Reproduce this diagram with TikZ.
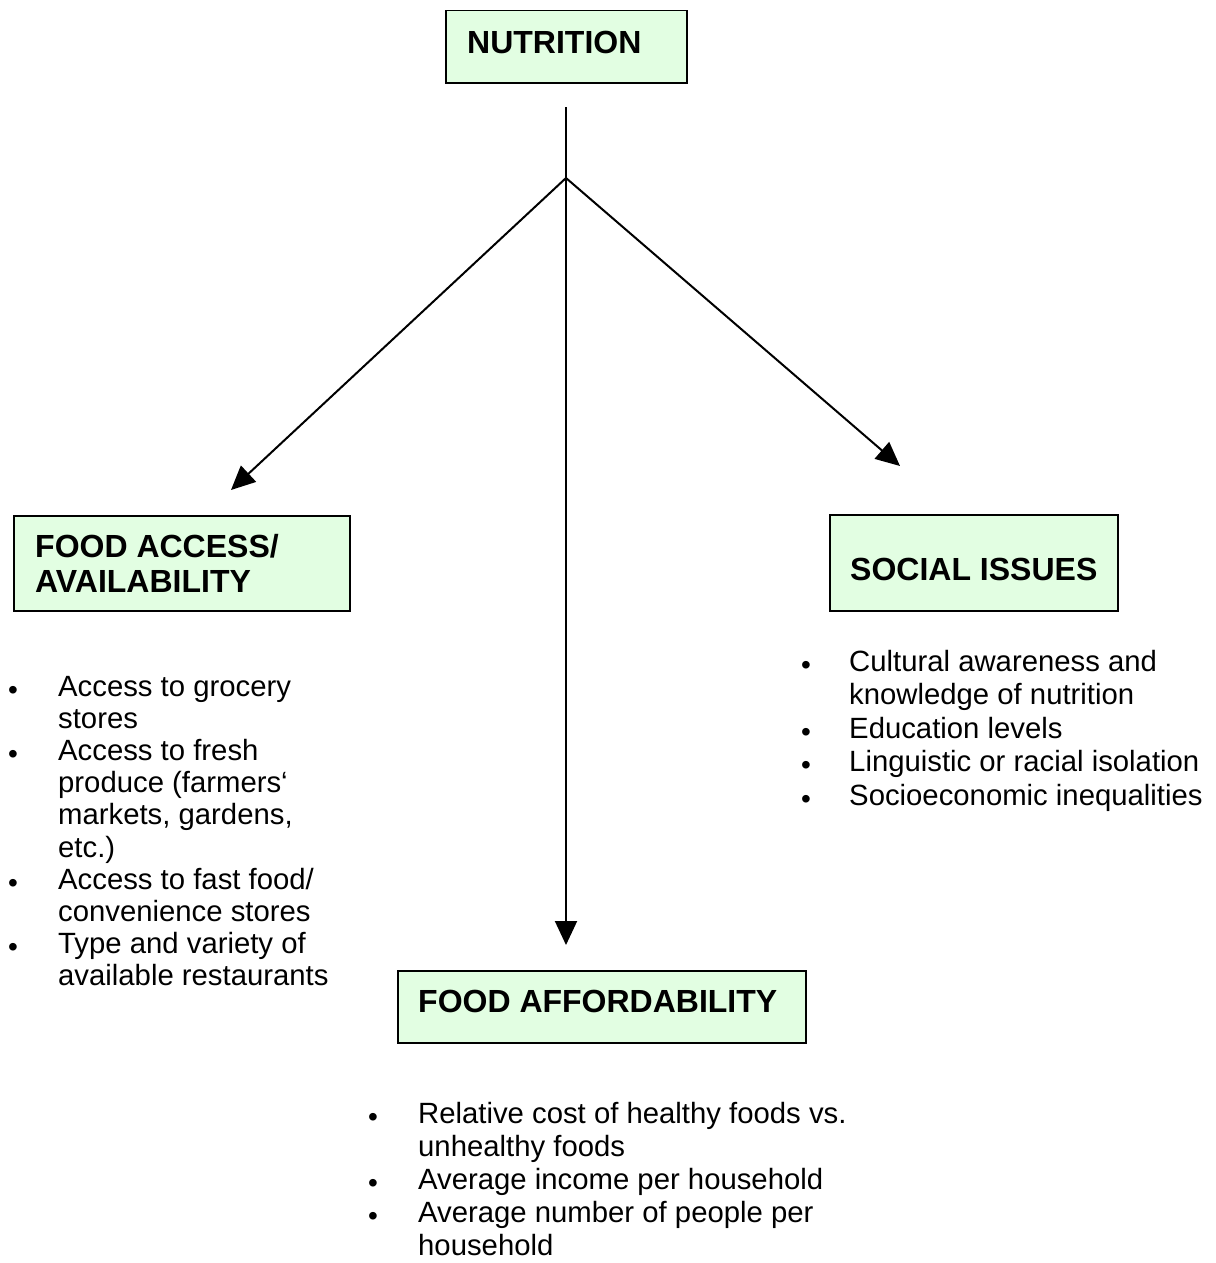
\documentclass[tikz,border=0pt]{standalone}
\usepackage{fontspec}
\setmainfont{Liberation Sans}
\usetikzlibrary{arrows.meta}
\definecolor{boxgreen}{RGB}{226,254,226}
\newcommand\bul{\raisebox{-3.2pt}{\fontsize{28}{28}\selectfont •}}
\newcommand\itm[2]{\hbox{\makebox[#1][l]{\bul}#2}}
\newcommand\cnt[2]{\hbox{\kern#1\relax #2}}
\begin{document}
\begin{tikzpicture}[x=1pt,y=-1pt,
  box/.style={draw=black, line width=1.5pt, fill=boxgreen, rectangle, anchor=north west, inner sep=0pt},
  head/.style={anchor=base west, inner sep=0pt, font=\fontsize{32}{35}\selectfont\bfseries},
  list/.style={anchor=base west, inner sep=0pt, font=\fontsize{29.3}{33}\selectfont},
  conn/.style={line width=2pt, black},
  arr/.style={conn, -{Triangle[length=24pt,width=22pt]}}]
\useasboundingbox (0,0) rectangle (1215,1263);

% boxes
\node[box, minimum width=241pt, minimum height=72pt] (nut) at (445,10) {};
\node[head] (nutT) at (467,53) {NUTRITION};

\node[box, minimum width=336pt, minimum height=95pt] (acc) at (13,515) {};
\node[head] (accT1) at (35,557) {FOOD ACCESS/};
\node[head] (accT2) at (35,592) {AVAILABILITY};

\node[box, minimum width=288pt, minimum height=96pt] (soc) at (829,514) {};
\node[head] (socT) at (850,580) {SOCIAL ISSUES};

\node[box, minimum width=408pt, minimum height=72pt] (aff) at (397,970) {};
\node[head] (affT) at (418,1012) {FOOD AFFORDABILITY};

% lists
\node[list] (accL) at (8,696) {\vtop{\baselineskip=32.2pt
\itm{50pt}{Access to grocery}
\cnt{50pt}{stores}
\itm{50pt}{Access to fresh}
\cnt{50pt}{produce (farmers‘}
\cnt{50pt}{markets, gardens,}
\cnt{50pt}{etc.)}
\itm{50pt}{Access to fast food/}
\cnt{50pt}{convenience stores}
\itm{50pt}{Type and variety of}
\cnt{50pt}{available restaurants}}};

\node[list] (socL) at (801,671) {\vtop{\baselineskip=33.5pt
\itm{48pt}{Cultural awareness and}
\cnt{48pt}{knowledge of nutrition}
\itm{48pt}{Education levels}
\itm{48pt}{Linguistic or racial isolation}
\itm{48pt}{Socioeconomic inequalities}}};

\node[list] (affL) at (368,1123) {\vtop{\baselineskip=33pt
\itm{50pt}{Relative cost of healthy foods vs.}
\cnt{50pt}{unhealthy foods}
\itm{50pt}{Average income per household}
\itm{50pt}{Average number of people per}
\cnt{50pt}{household}}};

% connectors
\coordinate (top) at (566,107);
\coordinate (split) at (566,178);
\coordinate (tipL) at (231,490);
\coordinate (tipR) at (900,466);
\coordinate (tipB) at (566,945);
\draw[conn] (top) -- (split);
\draw[arr] (split) -- (tipB);
\draw[arr] (split) -- (tipL);
\draw[arr] (split) -- (tipR);
\end{tikzpicture}
\end{document}
